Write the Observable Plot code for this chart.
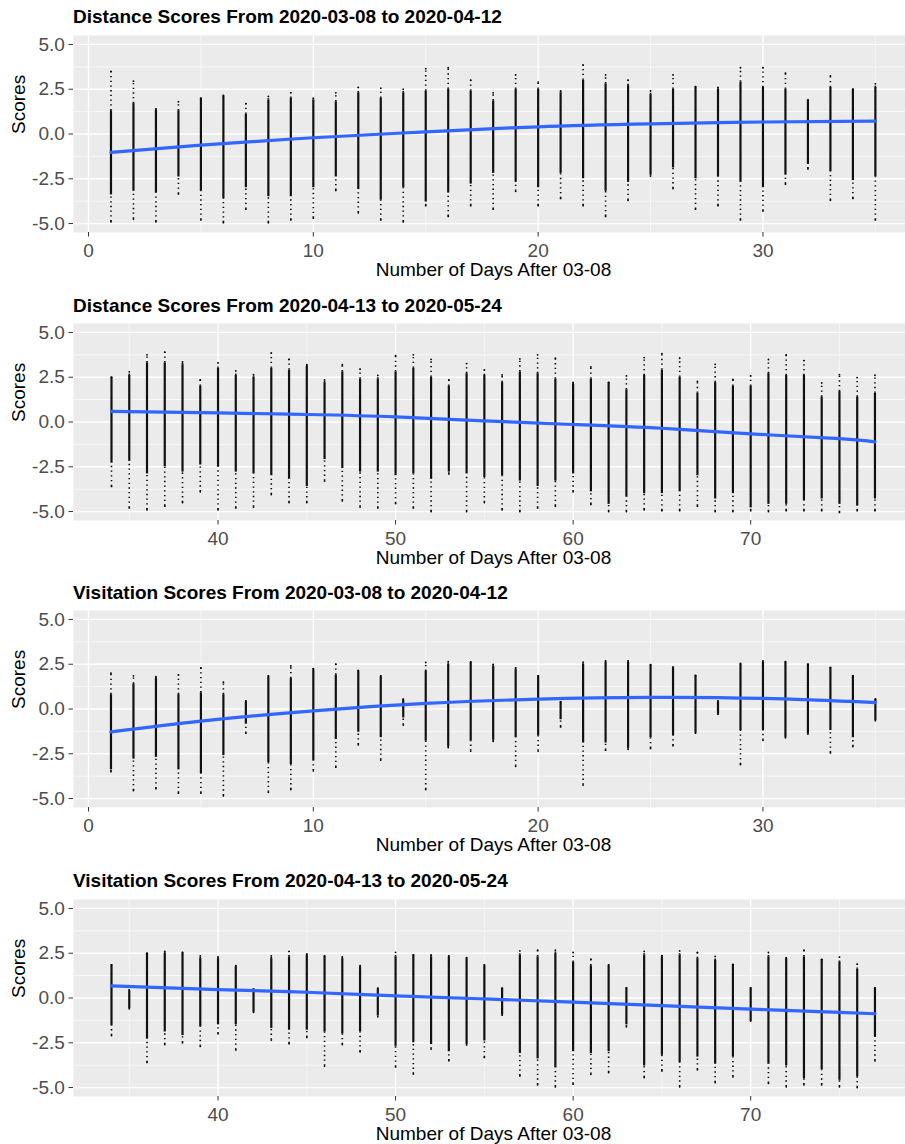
<!DOCTYPE html>
<html><head><meta charset="utf-8">
<script src="https://cdn.jsdelivr.net/npm/d3@7"></script>
<script src="https://cdn.jsdelivr.net/npm/@observablehq/plot@0.6"></script>
<style>
html,body{margin:0;padding:0;background:#fff;overflow:hidden}
#root{position:relative;width:905px;height:1144px;font-family:"Liberation Sans",Arial,sans-serif}
.title{position:absolute;left:73px;font-weight:bold;font-size:19px;line-height:19px;color:#000;white-space:nowrap}
.panel{position:absolute;left:0}
</style></head><body><div id="root"></div>
<script>
// ---------- data ----------
const titles = [
  "Distance Scores From 2020-03-08 to 2020-04-12",
  "Distance Scores From 2020-04-13 to 2020-05-24",
  "Visitation Scores From 2020-03-08 to 2020-04-12",
  "Visitation Scores From 2020-04-13 to 2020-05-24"
];
const xAxisTitle = "Number of Days After 03-08";
const yAxisTitle = "Scores";
const yTicks = [-5, -2.5, 0, 2.5, 5];
const yMinor = [-3.75, -1.25, 1.25, 3.75];
const xTicksEarly = [0, 10, 20, 30];
const xMinorEarly = [5, 15, 25, 35];
const xTicksLate = [40, 50, 60, 70];
const xMinorLate = [35, 45, 55, 65, 75];

const daysEarly = [1,2,3,4,5,6,7,8,9,10,11,12,13,14,15,16,17,18,19,20,21,22,23,24,25,26,27,28,29,30,31,32,33,34,35];
const daysLate = [34,35,36,37,38,39,40,41,42,43,44,45,46,47,48,49,50,51,52,53,54,55,56,57,58,59,60,61,62,63,64,65,66,67,68,69,70,71,72,73,74,75,76,77];

// Distance, early period: per day max, top of dense band, bottom of dense band, min
const distEarlyMax = [3.5,2.95,1.4,1.8,2.0,2.15,1.7,2.1,2.3,2.0,2.3,2.6,2.55,2.5,3.65,3.7,3.0,2.3,3.3,2.9,2.4,3.85,3.3,3.0,2.4,3.3,2.65,2.6,3.7,3.7,3.4,1.9,3.25,2.5,2.8];
const distEarlyTop = [1.3,1.7,1.35,1.3,2.0,2.1,1.1,1.9,2.0,1.9,1.8,2.3,2.0,2.3,2.4,2.5,2.4,1.85,2.5,2.5,2.3,3.0,2.8,2.7,2.2,2.5,2.6,2.5,2.9,2.6,2.5,1.9,2.6,2.5,2.6];
const distEarlyBot = [-3.4,-3.2,-3.3,-2.4,-3.2,-3.6,-3.0,-3.5,-3.5,-3.0,-2.4,-3.1,-3.7,-3.0,-3.8,-3.3,-2.8,-2.2,-2.7,-3.0,-2.2,-2.5,-3.2,-2.7,-2.3,-1.9,-2.5,-2.4,-2.7,-3.0,-2.3,-1.7,-2.1,-2.6,-2.4];
const distEarlyMin = [-4.9,-4.75,-4.9,-3.35,-4.8,-4.95,-4.2,-4.95,-4.8,-4.7,-3.15,-4.4,-4.8,-4.9,-4.0,-4.6,-4.0,-4.2,-3.2,-4.0,-3.6,-4.0,-4.6,-3.7,-2.35,-3.05,-4.2,-4.0,-4.8,-4.3,-2.8,-1.95,-3.7,-3.6,-4.8];
const distEarlySmoothDays = [1,5,10,15,20,25,30,35];
const distEarlySmooth = [-1.03,-0.62,-0.21,0.12,0.40,0.56,0.67,0.72];

// Distance, late period
const distLateMax = [2.5,2.8,3.75,3.9,3.35,2.35,3.3,2.85,2.65,3.85,3.5,3.2,2.35,3.2,2.95,2.6,3.7,3.75,3.5,2.35,3.26,2.9,2.63,3.52,3.75,3.56,2.21,3.07,2.21,2.57,3.6,3.82,3.56,2.27,3.22,2.38,2.57,3.49,3.75,3.43,2.18,2.64,2.48,2.61];
const distLateTop = [2.5,2.6,3.3,3.3,3.2,2.0,3.0,2.6,2.5,3.0,2.9,3.1,2.2,2.8,2.4,2.4,2.8,3.0,2.5,2.0,2.7,2.6,2.2,2.8,2.7,2.4,2.1,2.4,2.2,1.8,2.6,2.9,2.5,1.6,2.2,2.0,2.0,2.7,2.6,2.6,1.4,1.7,1.4,1.6];
const distLateBot = [-2.3,-2.2,-2.9,-2.5,-2.8,-2.4,-2.5,-2.8,-2.9,-3.0,-3.2,-3.6,-2.1,-2.6,-2.8,-2.8,-3.0,-2.9,-3.2,-2.8,-2.9,-3.1,-3.0,-3.3,-3.6,-3.3,-2.9,-3.9,-4.6,-4.2,-4.0,-4.0,-3.9,-3.0,-4.3,-4.0,-4.8,-4.6,-4.6,-4.4,-4.3,-4.6,-4.7,-4.3];
const distLateMin = [-3.6,-4.8,-4.9,-4.7,-4.5,-3.9,-4.9,-4.8,-4.75,-4.05,-4.5,-4.5,-3.3,-4.4,-4.75,-4.8,-4.55,-4.8,-5.0,-2.9,-5.0,-4.5,-4.9,-5.0,-4.8,-4.7,-3.9,-4.6,-5.0,-5.0,-4.9,-4.95,-4.95,-4.7,-5.0,-5.0,-4.95,-5.0,-4.95,-4.95,-4.95,-5.05,-4.95,-4.95];
const distLateSmoothDays = [34,40,45,50,55,60,65,70,75,77];
const distLateSmooth = [0.59,0.51,0.42,0.29,0.06,-0.14,-0.35,-0.66,-0.93,-1.11];

// Visitation, early period
const visEarlyMax = [2.0,1.85,1.8,1.9,2.3,1.5,0.45,1.85,2.4,2.25,2.5,2.15,1.85,0.55,2.6,2.65,2.63,2.49,2.3,1.85,0.4,2.62,2.69,2.69,2.47,2.34,1.87,0.45,2.54,2.69,2.65,2.5,2.32,1.85,0.55];
const visEarlyTop = [0.8,1.4,1.7,0.8,0.9,0.8,0.4,1.8,1.7,2.2,1.9,2.1,1.8,0.5,2.1,2.5,2.6,2.4,2.2,1.85,0.4,2.5,2.6,2.6,2.45,2.3,1.87,0.4,2.5,2.6,2.6,2.5,2.3,1.85,0.55];
const visEarlyBot = [-3.4,-2.8,-2.7,-3.4,-3.6,-2.6,-0.85,-3.0,-3.1,-2.9,-1.7,-1.3,-1.6,-0.5,-1.8,-2.1,-1.8,-1.75,-1.6,-1.5,-0.6,-1.9,-1.9,-2.2,-1.6,-1.5,-1.35,-0.3,-1.2,-1.2,-1.6,-1.4,-1.2,-1.6,-0.65];
const visEarlyMin = [-3.5,-4.55,-4.45,-4.7,-4.7,-4.85,-1.35,-4.65,-4.5,-3.45,-3.25,-2.0,-2.85,-0.9,-4.5,-2.15,-2.35,-1.8,-3.2,-2.35,-1.0,-4.25,-2.3,-2.25,-2.2,-2.05,-1.35,-0.3,-3.1,-1.75,-1.6,-1.4,-2.45,-2.1,-0.65];
const visEarlySmoothDays = [1,5,10,15,20,25,30,35];
const visEarlySmooth = [-1.28,-0.68,-0.10,0.31,0.55,0.65,0.59,0.36];

// Visitation, late period
const visLateMax = [1.85,0.45,2.5,2.6,2.55,2.35,2.3,1.8,0.5,2.35,2.6,2.45,2.35,2.3,1.8,0.55,2.55,2.4,2.4,2.35,2.26,1.85,0.55,2.63,2.67,2.67,2.54,2.17,1.85,0.57,2.6,2.36,2.63,2.54,2.32,1.87,0.57,2.54,2.24,2.67,2.15,2.28,1.89,0.57];
const visLateTop = [1.85,0.4,2.5,2.5,2.5,2.2,2.2,1.75,0.5,2.2,2.3,2.4,2.3,2.2,1.7,0.5,2.3,2.4,2.3,2.3,2.2,1.8,0.55,2.4,2.3,2.5,2.0,1.8,1.8,0.55,2.4,2.3,2.4,2.2,2.1,1.87,0.55,2.3,2.2,2.3,2.15,2.0,1.6,0.55];
const visLateBot = [-1.55,-0.6,-2.3,-1.9,-2.1,-1.6,-1.5,-1.5,-0.8,-1.7,-1.8,-1.8,-1.9,-2.0,-1.9,-1.0,-2.7,-2.5,-2.6,-3.0,-2.6,-2.4,-0.95,-3.1,-3.4,-3.9,-3.0,-3.1,-3.0,-1.5,-3.8,-3.2,-3.6,-3.3,-3.7,-3.3,-1.3,-3.7,-3.8,-4.5,-4.0,-4.6,-4.4,-2.2];
const visLateMin = [-2.1,-0.6,-3.6,-2.6,-2.5,-2.7,-2.0,-2.9,-0.8,-2.35,-2.55,-2.2,-3.8,-2.6,-3.0,-1.05,-3.85,-4.25,-2.85,-3.5,-2.62,-3.32,-0.96,-4.35,-4.85,-4.96,-4.81,-4.26,-4.16,-1.61,-4.44,-4.07,-4.96,-4.01,-4.72,-4.4,-1.29,-4.76,-4.96,-4.85,-4.85,-4.96,-5.0,-3.51];
const visLateSmoothDays = [34,40,45,50,55,60,65,70,75,77];
const visLateSmooth = [0.68,0.47,0.32,0.12,-0.05,-0.23,-0.43,-0.62,-0.80,-0.88];

// ---------- layout ----------
const panels = [
  {title: titles[0], days: daysEarly, max: distEarlyMax, top: distEarlyTop, bot: distEarlyBot, min: distEarlyMin,
   smDays: distEarlySmoothDays, sm: distEarlySmooth, xDomain: [-0.667, 36.34], xTicks: xTicksEarly, xMinor: xMinorEarly, panelTop: 34.75},
  {title: titles[1], days: daysLate, max: distLateMax, top: distLateTop, bot: distLateBot, min: distLateMin,
   smDays: distLateSmoothDays, sm: distLateSmooth, xDomain: [31.86, 78.72], xTicks: xTicksLate, xMinor: xMinorLate, panelTop: 323.4},
  {title: titles[2], days: daysEarly, max: visEarlyMax, top: visEarlyTop, bot: visEarlyBot, min: visEarlyMin,
   smDays: visEarlySmoothDays, sm: visEarlySmooth, xDomain: [-0.667, 36.34], xTicks: xTicksEarly, xMinor: xMinorEarly, panelTop: 610.35},
  {title: titles[3], days: daysLate, max: visLateMax, top: visLateTop, bot: visLateBot, min: visLateMin,
   smDays: visLateSmoothDays, sm: visLateSmooth, xDomain: [31.86, 78.72], xTicks: xTicksLate, xMinor: xMinorLate, panelTop: 898.75}
];

const root = document.getElementById("root");
const MT = 10, PH = 197, MB = 55;
const FONT = '"Liberation Sans", Arial, sans-serif';

for (const p of panels) {
  const rows = p.days.map((d, i) => ({day: d, max: p.max[i], top: p.top[i], bot: p.bot[i], min: p.min[i]}));
  const sm = p.smDays.map((d, i) => ({day: d, v: p.sm[i]}));

  const t = document.createElement("div");
  t.className = "title";
  t.textContent = p.title;
  t.style.top = (p.panelTop - 27.8) + "px";
  root.appendChild(t);

  const chart = Plot.plot({
    width: 905, height: MT + PH + MB,
    marginTop: MT, marginBottom: MB, marginLeft: 73, marginRight: 0,
    x: {domain: p.xDomain},
    y: {domain: [-5.5, 5.5]},
    style: {fontFamily: FONT, background: "transparent", overflow: "visible"},
    marks: [
      Plot.frame({fill: "#EBEBEB", stroke: null}),
      Plot.gridY(yMinor, {stroke: "#fff", strokeOpacity: 1, strokeWidth: 0.6}),
      Plot.gridX(p.xMinor, {stroke: "#fff", strokeOpacity: 1, strokeWidth: 0.6}),
      Plot.gridY(yTicks, {stroke: "#fff", strokeOpacity: 1, strokeWidth: 1.3}),
      Plot.gridX(p.xTicks, {stroke: "#fff", strokeOpacity: 1, strokeWidth: 1.3}),
      Plot.ruleX(rows, {x: "day", y1: "top", y2: "max", stroke: "#000", strokeWidth: 1.6, strokeDasharray: "1.3,3.4"}),
      Plot.ruleX(rows, {x: "day", y1: "min", y2: "bot", stroke: "#000", strokeWidth: 1.6, strokeDasharray: "1.3,3.4"}),
      Plot.ruleX(rows, {x: "day", y1: "bot", y2: "top", stroke: "#111", strokeWidth: 2.2}),
      Plot.dot(rows, {x: "day", y: "max", r: 0.9, fill: "#000", stroke: null}),
      Plot.dot(rows, {x: "day", y: "min", r: 0.9, fill: "#000", stroke: null}),
      Plot.line(sm, {x: "day", y: "v", curve: "natural", stroke: "#3366FF", strokeWidth: 3.2}),
      Plot.axisY(yTicks, {tickSize: 4.5, tickPadding: 4.2, tickFormat: d => d.toFixed(1), fontSize: 19, fill: "#4D4D4D", stroke: "#333", label: null}),
      Plot.axisX(p.xTicks, {tickSize: 4.5, tickPadding: 6, tickFormat: d => String(d), fontSize: 19, fill: "#4D4D4D", stroke: "#333", label: null}),
      Plot.text([yAxisTitle], {text: d => d, frameAnchor: "left", dx: -55, rotate: -90, fontSize: 19, fill: "#000"}),
      Plot.text([xAxisTitle], {text: d => d, frameAnchor: "bottom", lineAnchor: "middle", dx: 4, dy: 37, fontSize: 19, fill: "#000"})
    ]
  });
  chart.classList.add("panel");
  chart.style.top = (p.panelTop - MT) + "px";
  chart.style.position = "absolute";
  root.appendChild(chart);
}
</script></body></html>
